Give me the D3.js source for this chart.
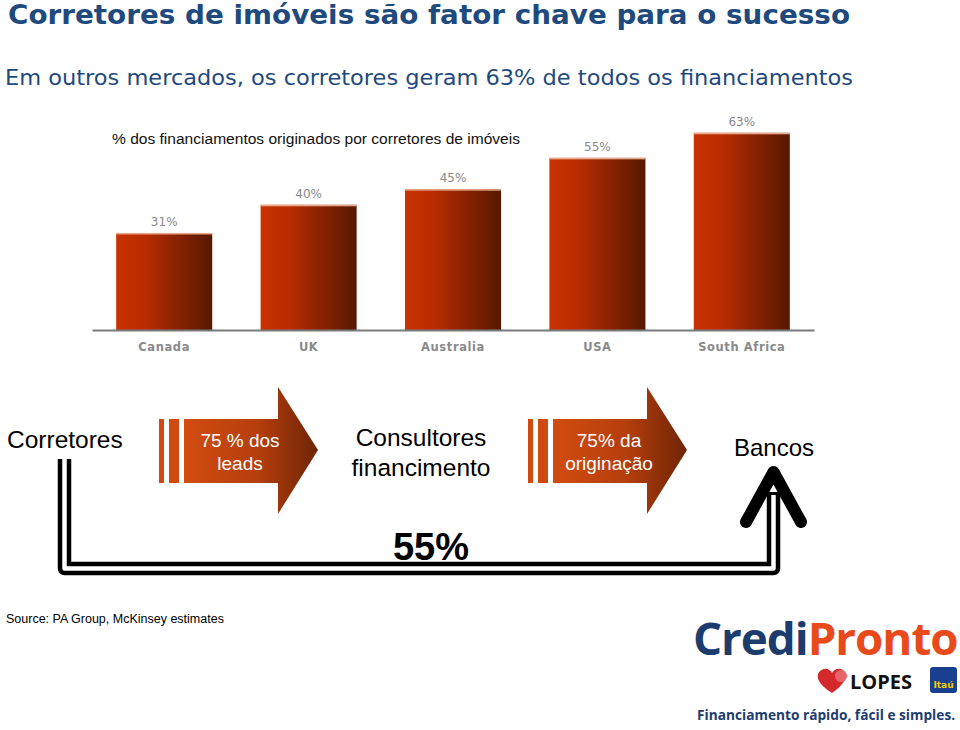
<!DOCTYPE html>
<html><head><meta charset="utf-8">
<script src="https://cdn.jsdelivr.net/npm/d3@7"></script>
<style>body{margin:0;background:#fff}svg{display:block}</style>
</head><body>
<svg id="c" width="960" height="730"></svg>
<script>
const categories = ["Canada","UK","Australia","USA","South Africa"];
const values = [31,40,45,55,63];
const valueLabels = ["31%","40%","45%","55%","63%"];
const titleText = "Corretores de imóveis são fator chave para o sucesso";
const subtitleText = "Em outros mercados, os corretores geram 63% de todos os financiamentos";
const chartLabel = "%  dos financiamentos originados por corretores de imóveis";
const arrowTexts = [["75 % dos","leads"],["75% da","originação"]];
const nodeTexts = {a:"Corretores", b:["Consultores","financimento"], c:"Bancos"};
const bypassShare = "55%";
const sourceText = "Source: PA Group, McKinsey estimates";

const svg = d3.select("#c");
const defs = svg.append("defs");
const g1 = defs.append("linearGradient").attr("id","barG").attr("x1","0").attr("x2","1").attr("y1","0").attr("y2","0");
g1.append("stop").attr("offset","0").attr("stop-color","#c93200");
g1.append("stop").attr("offset","0.3").attr("stop-color","#b82c00");
g1.append("stop").attr("offset","1").attr("stop-color","#561800");
const g2 = defs.append("linearGradient").attr("id","arrG").attr("x1","0").attr("x2","1").attr("y1","0").attr("y2","0");
g2.append("stop").attr("offset","0").attr("stop-color","#d24c10");
g2.append("stop").attr("offset","0.55").attr("stop-color","#b43e0c");
g2.append("stop").attr("offset","1").attr("stop-color","#6e2406");

// Titles
svg.append("text").attr("x",8).attr("y",24).attr("font-family","DejaVu Sans, sans-serif").attr("font-weight","bold")
  .attr("font-size",26).attr("fill","#1f4a7e").attr("textLength",842).attr("lengthAdjust","spacingAndGlyphs").text(titleText);
svg.append("text").attr("x",5).attr("y",85).attr("font-family","DejaVu Sans, sans-serif")
  .attr("font-size",22).attr("fill","#1f4a7e").attr("textLength",848).attr("lengthAdjust","spacingAndGlyphs").text(subtitleText);
svg.append("text").attr("x",112).attr("y",144).attr("font-family","Liberation Sans, Arial, sans-serif")
  .attr("font-size",15.5).attr("fill","#111").attr("textLength",408).attr("lengthAdjust","spacingAndGlyphs").text(chartLabel);

// Bar chart
const x = d3.scaleBand().domain(categories).range([92,814]).paddingInner(0.335).paddingOuter(0.1675);
const y = d3.scaleLinear().domain([0,100]).range([330,17]);
const data = categories.map((c,i)=>({c,v:values[i],l:valueLabels[i]}));
svg.selectAll("rect.bar").data(data).join("rect").attr("class","bar")
  .attr("x",d=>x(d.c)).attr("width",x.bandwidth()).attr("y",d=>y(d.v)).attr("height",d=>y(0)-y(d.v)).attr("fill","url(#barG)");
svg.selectAll("rect.hl").data(data).join("rect").attr("class","hl")
  .attr("x",d=>x(d.c)).attr("width",x.bandwidth()).attr("y",d=>y(d.v)).attr("height",1.5).attr("fill","#e9a88a");
svg.selectAll("text.vl").data(data).join("text").attr("class","vl")
  .attr("x",d=>x(d.c)+x.bandwidth()/2).attr("y",d=>y(d.v)-7).attr("text-anchor","middle")
  .attr("font-family","DejaVu Sans, sans-serif").attr("font-size",12).attr("fill","#8a8a8a").text(d=>d.l);
const ax = svg.append("g").attr("transform","translate(0,330)").call(d3.axisBottom(x).tickSize(0).tickPadding(13));
ax.select(".domain").attr("stroke","#7a7a7a").attr("stroke-width",2);
ax.selectAll("text").attr("font-family","DejaVu Sans, sans-serif").attr("font-size",11.5).attr("font-weight","bold")
  .attr("fill","#8a8a8a").attr("letter-spacing","0.6");

// Flow diagram
const ff = "Liberation Sans, Arial, sans-serif";
svg.append("path").attr("d","M64.5,459 V568.5 H773.5 V492").attr("fill","none").attr("stroke","#000").attr("stroke-width",13.5).attr("stroke-linejoin","round");
svg.append("path").attr("d","M64.5,459 V568.5 H773.5 V495").attr("fill","none").attr("stroke","#fff").attr("stroke-width",4.5).attr("stroke-linejoin","round");
svg.append("rect").attr("x",55).attr("y",452).attr("width",20).attr("height",7).attr("fill","#fff");
svg.append("path").attr("d","M746,522 L773.5,472 L801,522").attr("fill","none").attr("stroke","#000")
  .attr("stroke-width",12).attr("stroke-linecap","round").attr("stroke-linejoin","round");

function bigArrow(x0, lines){
  const gA = svg.append("g").attr("transform",`translate(${x0},0)`);
  gA.append("rect").attr("x",0).attr("y",419).attr("width",5).attr("height",64).attr("fill","#cf4a10");
  gA.append("rect").attr("x",10).attr("y",419).attr("width",10).attr("height",64).attr("fill","#cf4a10");
  gA.append("path").attr("d","M25,419 H119 V387 L159,450 L119,514 V483 H25 Z").attr("fill","url(#arrG)");
  gA.selectAll("text").data(lines).join("text").attr("x",81).attr("y",(d,i)=>447+i*23).attr("text-anchor","middle")
    .attr("font-family",ff).attr("font-size",19).attr("fill","#fff").text(d=>d);
}
bigArrow(159, arrowTexts[0]);
bigArrow(528, arrowTexts[1]);

svg.append("text").attr("x",7).attr("y",448).attr("font-family",ff).attr("font-size",24.5).attr("fill","#000").text(nodeTexts.a);
svg.selectAll("text.nb").data(nodeTexts.b).join("text").attr("class","nb").attr("x",421).attr("y",(d,i)=>446+i*30)
  .attr("text-anchor","middle").attr("font-family",ff).attr("font-size",24.5).attr("fill","#000").text(d=>d);
svg.append("text").attr("x",774).attr("y",456).attr("text-anchor","middle").attr("font-family",ff).attr("font-size",24).attr("fill","#000").text(nodeTexts.c);
svg.append("text").attr("x",431).attr("y",560).attr("text-anchor","middle").attr("font-family",ff).attr("font-weight","bold")
  .attr("font-size",38).attr("fill","#000").text(bypassShare);

svg.append("text").attr("x",6).attr("y",623).attr("font-family",ff).attr("font-size",12.5).attr("fill","#000").text(sourceText);

// Logo
const lg = svg.append("g");
const t = lg.append("text").attr("transform","translate(693,655) scale(1.04,1)").attr("font-family","Open Sans, DejaVu Sans, sans-serif").attr("font-weight","bold")
  .attr("font-size",44).attr("letter-spacing","-1");
t.append("tspan").attr("fill","#1d3c6e").text("Credi");
t.append("tspan").attr("fill","#e84a1c").text("Pronto");
lg.append("path").attr("d","M832,693 C818,684 815,676 820,671 C825,667 830,669 832,673 C834,669 840,667 844,671 C848,676 845,684 832,693 Z").attr("fill","#d42a2e");
lg.append("circle").attr("cx",841).attr("cy",676).attr("r",6).attr("fill","#e8666a");
lg.append("text").attr("x",850).attr("y",689).attr("font-family","Open Sans, DejaVu Sans, sans-serif").attr("font-weight","bold")
  .attr("font-size",20).attr("fill","#111").text("LOPES");
lg.append("rect").attr("x",930).attr("y",667).attr("width",27).attr("height",26).attr("rx",3).attr("fill","#1a3f8f");
lg.append("text").attr("x",943.5).attr("y",688).attr("text-anchor","middle").attr("font-family","DejaVu Sans, sans-serif").attr("font-weight","bold")
  .attr("font-size",9).attr("fill","#f5d000").text("Itaú");
lg.append("text").attr("transform","translate(697,720) scale(0.945,1)").attr("font-family","Open Sans, DejaVu Sans, sans-serif").attr("font-weight","bold")
  .attr("font-size",14.5).attr("fill","#1d3c6e").text("Financiamento rápido, fácil e simples.");
</script>
</body></html>
